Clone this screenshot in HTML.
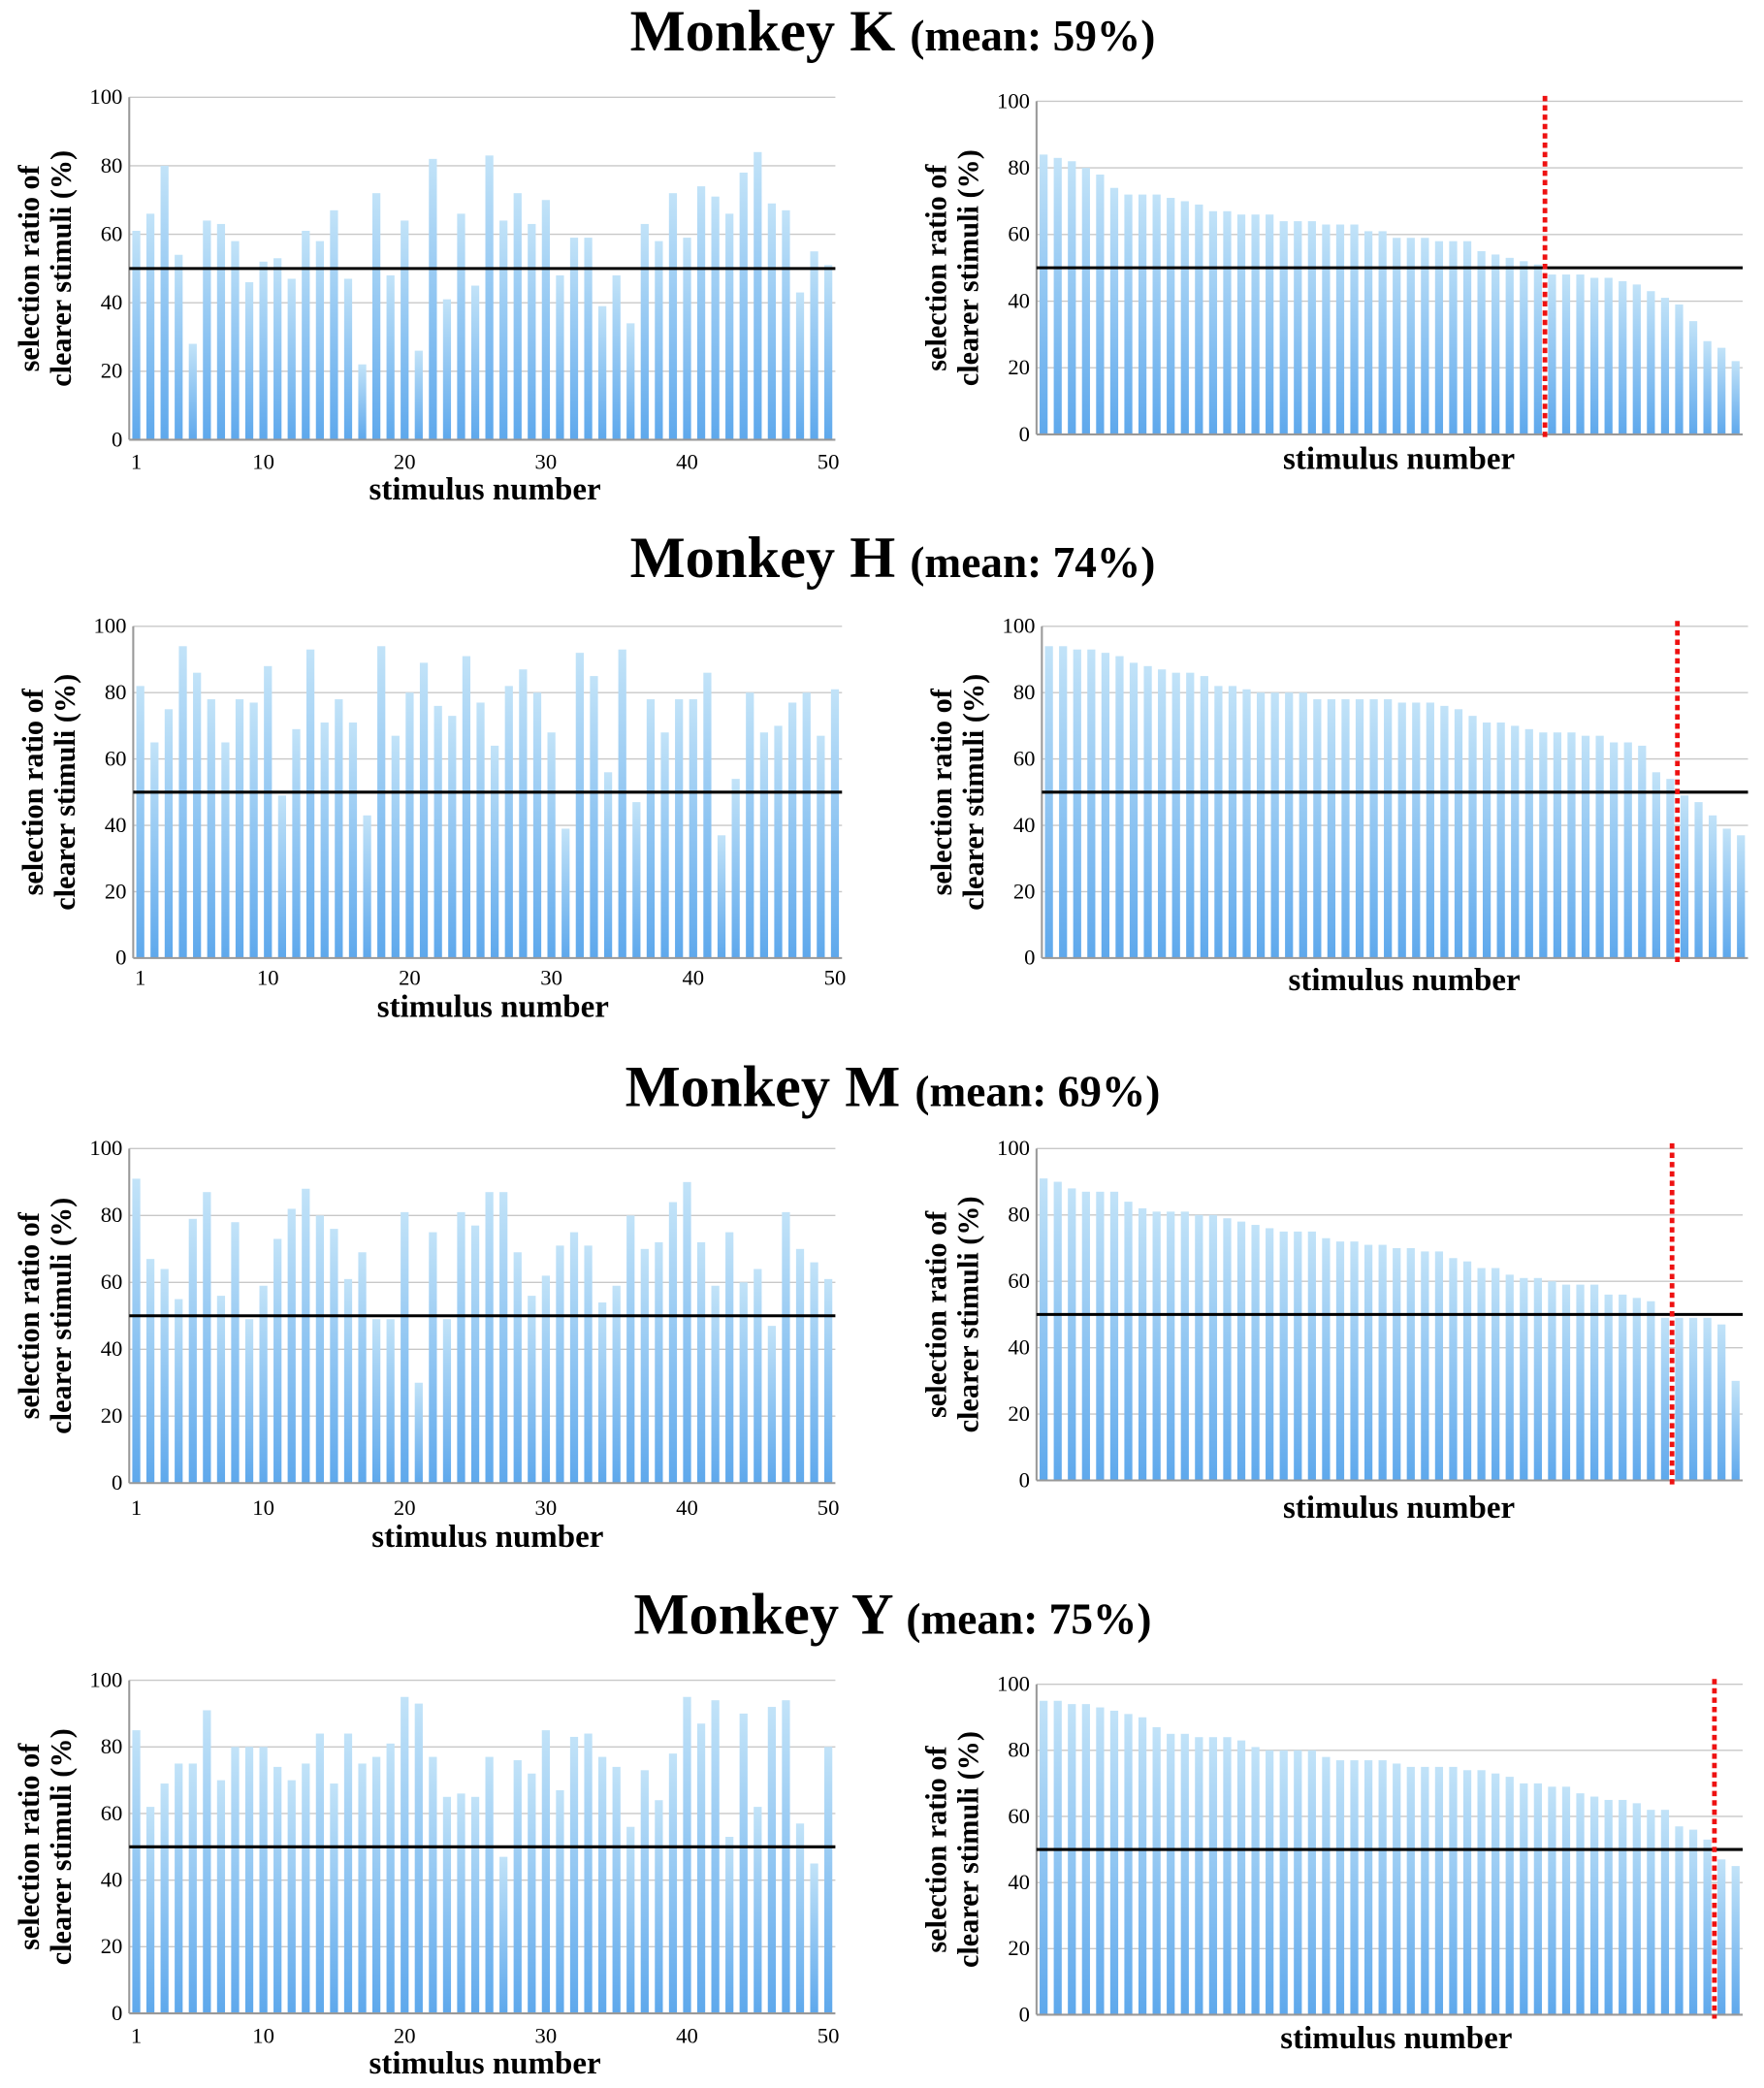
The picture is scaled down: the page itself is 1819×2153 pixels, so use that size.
<!DOCTYPE html>
<html><head><meta charset="utf-8"><style>
html,body{margin:0;padding:0;background:#fff;}
svg{display:block;font-family:"Liberation Serif",serif;}
</style></head><body>
<svg id="fig" width="1819" height="2153" viewBox="0 0 1324 1567" preserveAspectRatio="none" xmlns="http://www.w3.org/2000/svg">
<defs>
<linearGradient id="barGrad" x1="0" y1="0" x2="0" y2="1">
<stop offset="0" stop-color="#c2e3f8"/><stop offset="1" stop-color="#5ea8ec"/>
</linearGradient>
</defs>
</svg>
<script>
const monkeyNames = ["K","H","M","Y"];
const meanLabels = ["59%","74%","69%","75%"];
const kValues = [61,66,80,54,28,64,63,58,46,52,53,47,61,58,67,47,22,72,48,64,26,82,41,66,45,83,64,72,63,70,48,59,59,39,48,34,63,58,72,59,74,71,66,78,84,69,67,43,55,51];
const hValues = [82,65,75,94,86,78,65,78,77,88,49,69,93,71,78,71,43,94,67,80,89,76,73,91,77,64,82,87,80,68,39,92,85,56,93,47,78,68,78,78,86,37,54,80,68,70,77,80,67,81];
const mValues = [91,67,64,55,79,87,56,78,49,59,73,82,88,80,76,61,69,49,49,81,30,75,49,81,77,87,87,69,56,62,71,75,71,54,59,80,70,72,84,90,72,59,75,60,64,47,81,70,66,61];
const yValues = [85,62,69,75,75,91,70,80,80,80,74,70,75,84,69,84,75,77,81,95,93,77,65,66,65,77,47,76,72,85,67,83,84,77,74,56,73,64,78,95,87,94,53,90,62,92,94,57,45,80];
const cutoffs = [36,45,45,48];
const chanceLevel = [50,50,50,50];
const yTicks = [0,20,40,60,80,100];
const xTickLabels = [1,10,20,30,40,50];

const allValues = [kValues,hValues,mValues,yValues];
const NS = "http://www.w3.org/2000/svg";
const svg = document.getElementById("fig");
function mk(tag, attrs, parent){
  const e = document.createElementNS(NS, tag);
  for (const k in attrs) e.setAttribute(k, attrs[k]);
  (parent||svg).appendChild(e);
  return e;
}
const titles = [{y:38},{y:433},{y:830},{y:1226}];
const layouts = [
  {L:{x0:97,x1:627,yT:73,yB:330,xl:352,xt:375,xc:364}, R:{x0:778,x1:1308,yT:76,yB:326,xt:352,xc:1050}},
  {L:{x0:100,x1:632,yT:470,yB:719,xl:739,xt:763,xc:370}, R:{x0:782,x1:1312,yT:470,yB:719,xt:743,xc:1054}},
  {L:{x0:97,x1:627,yT:862,yB:1113,xl:1137,xt:1161,xc:366}, R:{x0:778,x1:1308,yT:862,yB:1111,xt:1139,xc:1050}},
  {L:{x0:97,x1:627,yT:1261,yB:1511,xl:1533,xt:1556,xc:364}, R:{x0:778,x1:1308,yT:1264,yB:1512,xt:1537,xc:1048}}
];

function drawChart(g, geo, vals, sorted, cutoff, chance){
  const n = vals.length;
  const bw = (geo.x1-geo.x0)/n;
  const xS = i => geo.x0 + (i+0.5)*bw;
  const yS = v => geo.yB - (v/100)*(geo.yB-geo.yT);
  yTicks.forEach(t=>{
    if(t>0){
      const gl = mk("line",{x1:geo.x0,x2:geo.x1,y1:yS(t),y2:yS(t),stroke:"#c8c8c8","stroke-width":1},g);
      
      
    }
    const tl = mk("text",{x:geo.x0-5,y:yS(t)+5,"text-anchor":"end","font-size":16.5},g);
    tl.textContent = t;
    
    
  });
  const ya = mk("line",{x1:geo.x0,x2:geo.x0,y1:geo.yT,y2:geo.yB,stroke:"#999","stroke-width":1.5},g);
  
  
  vals.forEach((v,i)=>{
    const b = mk("rect",{x:xS(i)-3,y:yS(v),width:6,height:geo.yB-yS(v),fill:"url(#barGrad)"},g);
    
    
  });
  const xa = mk("line",{x1:geo.x0,x2:geo.x1,y1:geo.yB,y2:geo.yB,stroke:"#999","stroke-width":1.5},g);
  
  
  const cl = mk("line",{x1:geo.x0,x2:geo.x1,y1:yS(chance),y2:yS(chance),stroke:"#000","stroke-width":2.2},g);
  
  
  if(!sorted){
    xTickLabels.forEach(t=>{
      const xl = mk("text",{x:xS(t-1),y:geo.xl,"text-anchor":"middle","font-size":16.5},g);
      xl.textContent = t;
      
      
    });
  } else {
    const rx = geo.x0 + cutoff*bw;
    const rl = mk("line",{x1:rx,x2:rx,y1:geo.yT-4,y2:geo.yB+3,stroke:"#ee1111","stroke-width":3.5,"stroke-dasharray":"4 3"},g);
    
    
  }
  const xt = mk("text",{x:geo.xc,y:geo.xt,"text-anchor":"middle","font-size":24,"font-weight":"bold"},g);
  xt.textContent = "stimulus number";
  
  
  const cy = (geo.yT+geo.yB)/2;
  const yx = geo.x0 - 68;
  const yt = mk("text",{transform:`translate(${yx},${cy}) rotate(-90)`,"text-anchor":"middle","font-size":22,"font-weight":"bold"},g);
  const t1 = mk("tspan",{x:0,y:0},yt); t1.textContent = "selection ratio of";
  const t2 = mk("tspan",{x:0,y:24},yt); t2.textContent = "clearer stimuli (%)";
  
  
}

monkeyNames.forEach((m,k)=>{
  const title = mk("text",{x:670,y:titles[k].y,"text-anchor":"middle","font-weight":"bold"});
  const a = mk("tspan",{"font-size":44},title); a.textContent = "Monkey "+m+" ";
  const b = mk("tspan",{"font-size":33},title); b.textContent = "(mean: "+meanLabels[k]+")";
  
  
  const gL = mk("g",{});
  
  
  drawChart(gL, layouts[k].L, allValues[k], false, 0, chanceLevel[k]);
  const gR = mk("g",{});
  
  
  const sortedVals = allValues[k].slice().sort((p,q)=>q-p);
  drawChart(gR, layouts[k].R, sortedVals, true, cutoffs[k], chanceLevel[k]);
});
</script>
</body></html>
